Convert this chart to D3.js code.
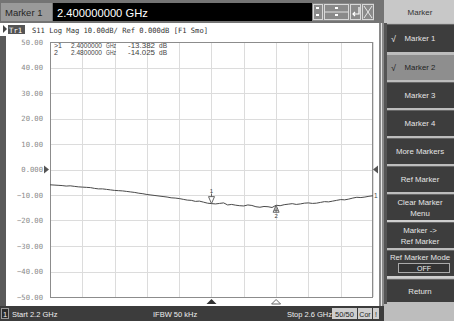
<!DOCTYPE html>
<html>
<head>
<meta charset="utf-8">
<script src="https://cdn.jsdelivr.net/npm/d3@7"></script>
<style>
  html, body { margin: 0; padding: 0; background: #fff; }
  svg { display: block; }
  text { font-family: "Liberation Sans", "DejaVu Sans", sans-serif; }
  .mono { font-family: "DejaVu Sans Mono", "Liberation Mono", monospace; }
</style>
</head>
<body>
<svg id="scr" width="454" height="321"></svg>
<script>
// ---- data ----
const freqGHz = [2.200, 2.205, 2.210, 2.215, 2.220, 2.225, 2.230, 2.235, 2.240, 2.245,
  2.250, 2.255, 2.260, 2.265, 2.270, 2.275, 2.280, 2.285, 2.290, 2.295,
  2.300, 2.305, 2.310, 2.315, 2.320, 2.325, 2.330, 2.335, 2.340, 2.345,
  2.350, 2.355, 2.360, 2.365, 2.370, 2.375, 2.380, 2.385, 2.390, 2.395,
  2.400, 2.405, 2.410, 2.415, 2.420, 2.425, 2.430, 2.435, 2.440, 2.445,
  2.450, 2.455, 2.460, 2.465, 2.470, 2.475, 2.480, 2.485, 2.490, 2.495,
  2.500, 2.505, 2.510, 2.515, 2.520, 2.525, 2.530, 2.535, 2.540, 2.545,
  2.550, 2.555, 2.560, 2.565, 2.570, 2.575, 2.580, 2.585, 2.590, 2.595, 2.600];
const s11dB = [-6.0, -6.1, -6.2, -6.3, -6.5, -6.4, -6.6, -6.8, -6.9, -7.0,
  -7.1, -7.4, -7.6, -7.6, -7.8, -8.0, -8.2, -8.3, -8.4, -8.6,
  -8.8, -9.0, -9.3, -9.5, -9.8, -10.0, -10.2, -10.4, -10.6, -10.8,
  -11.1, -11.2, -11.4, -11.7, -12.0, -12.1, -12.5, -12.4, -12.8, -13.2,
  -13.382, -13.5, -13.3, -13.1, -13.9, -13.7, -14.0, -14.2, -14.3, -13.9,
  -14.1, -14.6, -14.8, -14.5, -14.6, -14.9, -14.025, -14.2, -13.8, -13.6,
  -13.4, -13.7, -13.5, -13.2, -13.1, -13.3, -13.2, -12.9, -12.6, -12.7,
  -12.4, -12.1, -11.8, -11.9, -11.6, -11.2, -10.9, -11.0, -10.8, -10.5, -10.3];
const yTicks = [50, 40, 30, 20, 10, 0, -10, -20, -30, -40, -50];
const xGridGHz = [2.20, 2.24, 2.28, 2.32, 2.36, 2.40, 2.44, 2.48, 2.52, 2.56, 2.60];
const markerIds = [1, 2];
const markerFreqGHz = [2.4, 2.48];
const markerDB = [-13.382, -14.025];
const softKeys = ["Marker 1", "Marker 2", "Marker 3", "Marker 4", "More Markers",
  "Ref Marker", "Clear Marker|Menu", "Marker ->|Ref Marker", "Ref Marker Mode", "Return"];

const svg = d3.select("#scr");

// ---- window frame ----
svg.append("rect").attr("x", 0).attr("y", 0).attr("width", 454).attr("height", 321).attr("fill", "#bdbdbd");
svg.append("rect").attr("x", 0).attr("y", 0).attr("width", 384).attr("height", 23).attr("fill", "#747474");
svg.append("rect").attr("x", 0).attr("y", 23).attr("width", 380).attr("height", 283).attr("fill", "#ffffff");
svg.append("rect").attr("x", 0).attr("y", 36).attr("width", 6).attr("height", 270).attr("fill", "#5a5a5a");
svg.append("rect").attr("x", 379).attr("y", 23).attr("width", 5).attr("height", 283).attr("fill", "#8a8a8a");
svg.append("line").attr("x1", 381.5).attr("x2", 381.5).attr("y1", 23).attr("y2", 306).attr("stroke", "#e6e6e6");

// entry bar
svg.append("rect").attr("x", 1).attr("y", 3).attr("width", 51).attr("height", 18).attr("fill", "#9a9a9a");
svg.append("text").attr("x", 5).attr("y", 16).attr("font-size", 9.5).attr("fill", "#262626").text("Marker 1");
svg.append("rect").attr("x", 53).attr("y", 3).attr("width", 259).attr("height", 18).attr("fill", "#000");
svg.append("text").attr("x", 57).attr("y", 16.5).attr("font-size", 11.2).attr("fill", "#fff").text("2.400000000 GHz");
// entry buttons
const btn = svg.append("g");
btn.append("rect").attr("x", 312).attr("y", 3).attr("width", 62).attr("height", 18).attr("fill", "#8a8a8a");
[[313, 10], [324, 25], [350, 11], [362, 12]].forEach(([bx, bw]) => {
  btn.append("rect").attr("x", bx + 0.5).attr("y", 4.5).attr("width", bw - 1).attr("height", 15)
    .attr("fill", "none").attr("stroke", "#d8d8d8");
});
btn.append("rect").attr("x", 316).attr("y", 7).attr("width", 3).attr("height", 2).attr("fill", "#fff");
btn.append("rect").attr("x", 316).attr("y", 14).attr("width", 3).attr("height", 2).attr("fill", "#fff");
btn.append("rect").attr("x", 335).attr("y", 7).attr("width", 3).attr("height", 2).attr("fill", "#fff");
btn.append("rect").attr("x", 335).attr("y", 14).attr("width", 3).attr("height", 2).attr("fill", "#fff");
btn.append("line").attr("x1", 325).attr("x2", 348).attr("y1", 12).attr("y2", 12).attr("stroke", "#e0e0e0");
btn.append("path").attr("d", "M359,7 V14 H353 M355,12 L353,14 L355,16").attr("fill", "none").attr("stroke", "#fff").attr("stroke-width", 1.2);
btn.append("path").attr("d", "M364,6 L372,18 M372,6 L364,18").attr("stroke", "#e8e8e8");

// ---- channel title ----
svg.append("path").attr("d", "M3,25 L7,29 L3,33 Z").attr("fill", "#444");
svg.append("rect").attr("x", 8).attr("y", 25).attr("width", 17).attr("height", 9).attr("fill", "#555");
svg.append("text").attr("class", "mono").attr("x", 9).attr("y", 32.5).attr("font-size", 7.3).attr("fill", "#fff").text("Tr1");
svg.append("text").attr("class", "mono").attr("x", 32).attr("y", 32.5).attr("font-size", 7.3).attr("fill", "#333")
  .attr("textLength", 176).attr("lengthAdjust", "spacingAndGlyphs")
  .text("S11 Log Mag 10.00dB/ Ref 0.000dB [F1 Smo]");

// ---- plot ----
const x = d3.scaleLinear().domain([2.2, 2.6]).range([50, 373]);
const y = d3.scaleLinear().domain([-50, 50]).range([297, 42]);

const grid = svg.append("g");
grid.selectAll("line.h").data(yTicks).join("line")
  .attr("x1", 50).attr("x2", 373)
  .attr("y1", d => Math.round(y(d)) + 0.5).attr("y2", d => Math.round(y(d)) + 0.5)
  .attr("stroke", "#dcdcdc");
grid.selectAll("line.v").data(xGridGHz).join("line")
  .attr("x1", d => Math.round(x(d)) + 0.5).attr("x2", d => Math.round(x(d)) + 0.5)
  .attr("y1", 42).attr("y2", 297)
  .attr("stroke", "#dcdcdc");
svg.append("rect").attr("x", 50.5).attr("y", 42.5).attr("width", 322).attr("height", 255)
  .attr("fill", "none").attr("stroke", "#8c8c8c");

// y axis labels
const yAxis = d3.axisLeft(y).tickValues(yTicks).tickSize(0).tickPadding(7)
  .tickFormat(d => d === 0 ? "0.000" : d3.format(".2f")(d));
const ya = svg.append("g").attr("transform", "translate(50,0)").call(yAxis);
ya.select(".domain").remove();
ya.selectAll("text").attr("class", "mono").attr("font-size", 7.2).attr("fill", "#8a8a8a")
  .attr("font-family", "DejaVu Sans Mono");

// reference level arrows
svg.append("path").attr("d", `M44,${y(0) - 4} L49,${y(0)} L44,${y(0) + 4} Z`).attr("fill", "#555");
svg.append("path").attr("d", `M378,${y(0) - 4} L373,${y(0)} L378,${y(0) + 4} Z`).attr("fill", "#555");

// marker table
const tbl = svg.append("g").attr("class", "mono").attr("font-size", 7).attr("fill", "#444");
markerIds.forEach((id, i) => {
  const ty = 48 + i * 7;
  tbl.append("text").attr("x", 54).attr("y", ty).text(i === 0 ? ">" + id : " " + id);
  tbl.append("text").attr("x", 71).attr("y", ty).attr("textLength", 31).attr("lengthAdjust", "spacingAndGlyphs")
    .text(markerFreqGHz[i].toFixed(7));
  tbl.append("text").attr("x", 106).attr("y", ty).attr("textLength", 10).attr("lengthAdjust", "spacingAndGlyphs").text("GHz");
  tbl.append("text").attr("x", 128).attr("y", ty).attr("textLength", 27).attr("lengthAdjust", "spacingAndGlyphs")
    .text(markerDB[i].toFixed(3));
  tbl.append("text").attr("x", 159).attr("y", ty).attr("textLength", 8).attr("lengthAdjust", "spacingAndGlyphs").text("dB");
});

// trace
const line = d3.line().x((d, i) => x(freqGHz[i])).y(d => y(d));
svg.append("path").datum(s11dB).attr("d", line).attr("fill", "none")
  .attr("stroke", "#4a4a4a").attr("stroke-width", 1);
svg.append("text").attr("x", 374).attr("y", y(s11dB[s11dB.length - 1]) + 2.5).attr("font-size", 6.5).attr("fill", "#444").text("1");

// markers on trace
const m1x = x(markerFreqGHz[0]), m1y = y(markerDB[0]);
svg.append("path").attr("d", `M${m1x - 3},${m1y - 7} L${m1x + 3},${m1y - 7} L${m1x},${m1y} Z M${m1x},${m1y - 10} V${m1y - 7}`)
  .attr("fill", "#fff").attr("stroke", "#555").attr("stroke-width", 0.9);
svg.append("text").attr("x", m1x).attr("y", m1y - 10.5).attr("text-anchor", "middle").attr("font-size", 6).attr("fill", "#444").text(markerIds[0]);
const m2x = x(markerFreqGHz[1]), m2y = y(markerDB[1]);
svg.append("path").attr("d", `M${m2x},${m2y} L${m2x + 3},${m2y + 7} L${m2x - 3},${m2y + 7} Z M${m2x},${m2y + 2} V${m2y + 7} M${m2x - 2},${m2y + 5} H${m2x + 2}`)
  .attr("fill", "#fff").attr("stroke", "#555").attr("stroke-width", 0.9);
svg.append("text").attr("x", m2x).attr("y", m2y + 13).attr("text-anchor", "middle").attr("font-size", 6).attr("fill", "#444").text(markerIds[1]);

// marker position arrows below the grid
svg.append("path").attr("d", `M${m1x},299 L${m1x + 5},304 L${m1x - 5},304 Z`).attr("fill", "#333");
svg.append("path").attr("d", `M${m2x},299.5 L${m2x + 4.5},304 L${m2x - 4.5},304 Z`).attr("fill", "#fff").attr("stroke", "#666");

// ---- status bar ----
svg.append("rect").attr("x", 0).attr("y", 306).attr("width", 384).attr("height", 15).attr("fill", "#3c3c3c");
svg.append("rect").attr("x", 1.5).attr("y", 308.5).attr("width", 7).attr("height", 10).attr("fill", "#2a2a2a").attr("stroke", "#9a9a9a");
svg.append("text").attr("x", 5).attr("y", 316.5).attr("text-anchor", "middle").attr("font-size", 7.5).attr("fill", "#eee").text("1");
svg.append("text").attr("x", 12).attr("y", 316.5).attr("font-size", 7.5).attr("fill", "#eee").text("Start 2.2 GHz");
svg.append("text").attr("x", 153).attr("y", 316.5).attr("font-size", 7.5).attr("fill", "#eee").text("IFBW 50 kHz");
svg.append("text").attr("x", 287).attr("y", 316.5).attr("font-size", 7.5).attr("fill", "#eee").text("Stop 2.6 GHz");
svg.append("rect").attr("x", 332).attr("y", 308).attr("width", 25).attr("height", 11).attr("fill", "#cfcfcf");
svg.append("text").attr("x", 344.5).attr("y", 316.5).attr("text-anchor", "middle").attr("font-size", 7.5).attr("fill", "#222").text("50/50");
svg.append("rect").attr("x", 358).attr("y", 308).attr("width", 14).attr("height", 11).attr("fill", "#cfcfcf");
svg.append("text").attr("x", 365).attr("y", 316.5).attr("text-anchor", "middle").attr("font-size", 7).attr("fill", "#222").text("Cor");
svg.append("rect").attr("x", 373).attr("y", 308).attr("width", 6).attr("height", 11).attr("fill", "#cfcfcf");
svg.append("text").attr("x", 376).attr("y", 316.5).attr("text-anchor", "middle").attr("font-size", 7).attr("fill", "#222").text("!");

// ---- soft key panel ----
svg.append("rect").attr("x", 384).attr("y", 0).attr("width", 70).attr("height", 23).attr("fill", "#c8c8c8");
svg.append("text").attr("x", 420).attr("y", 14.5).attr("text-anchor", "middle").attr("font-size", 8).attr("fill", "#333").text("Marker");
svg.append("rect").attr("x", 384).attr("y", 23).attr("width", 3).attr("height", 281).attr("fill", "#555");
svg.append("rect").attr("x", 384).attr("y", 304).attr("width", 70).attr("height", 17).attr("fill", "#bdbdbd");

const keyTop = [24, 54, 82, 110, 138, 166, 194, 222, 250, 279];
const keyBot = [52, 80, 108, 136, 164, 192, 220, 248, 276, 302];
const keys = svg.append("g");
softKeys.forEach((label, i) => {
  const top = keyTop[i], h = keyBot[i] - keyTop[i];
  const active = i === 1;
  keys.append("rect").attr("x", 387).attr("y", top).attr("width", 67).attr("height", h)
    .attr("fill", active ? "#8e8e8e" : "#3d3d3d");
  keys.append("line").attr("x1", 387).attr("x2", 454).attr("y1", top + 0.5).attr("y2", top + 0.5)
    .attr("stroke", active ? "#bcbcbc" : "#666");
  const color = active ? "#222" : "#e6e6e6";
  const lines = label.split("|");
  const cy = top + h / 2;
  if (i === 8) {
    keys.append("text").attr("x", 420).attr("y", top + 10).attr("text-anchor", "middle")
      .attr("font-size", 7.8).attr("fill", color).text(label);
    keys.append("rect").attr("x", 398.5).attr("y", 263.5).attr("width", 51).attr("height", 9)
      .attr("fill", "#333").attr("stroke", "#aaa");
    keys.append("text").attr("x", 424).attr("y", 270.8).attr("text-anchor", "middle")
      .attr("font-size", 7).attr("fill", "#eee").text("OFF");
  } else {
    lines.forEach((ln, j) => {
      keys.append("text").attr("x", 420)
        .attr("y", cy + 3 + (j - (lines.length - 1) / 2) * 11)
        .attr("text-anchor", "middle").attr("font-size", 7.8).attr("fill", color).text(ln);
    });
  }
  if (i < 2) {
    keys.append("text").attr("x", 391).attr("y", cy + 3.5).attr("font-size", 9).attr("fill", color).text("√");
  }
});
// double separators between groups
[221, 277].forEach(sy => {
  keys.append("rect").attr("x", 387).attr("y", sy - 1).attr("width", 67).attr("height", 2).attr("fill", "#cfcfcf");
});
</script>
</body>
</html>
